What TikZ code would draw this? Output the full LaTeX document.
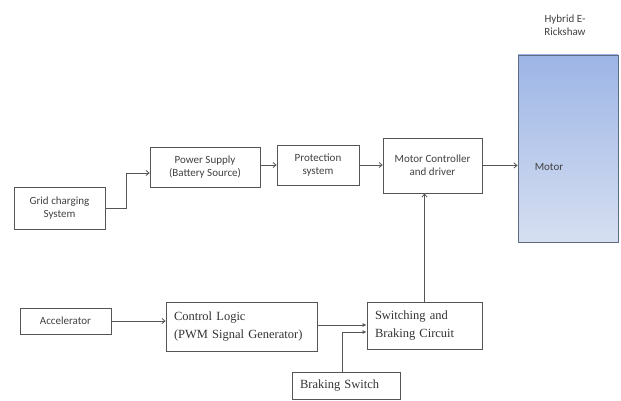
\documentclass[tikz,border=0pt]{standalone}
\usepackage{fontspec}
\setmainfont{Liberation Serif}
\newfontfamily\calib{Carlito}
\usetikzlibrary{arrows.meta}
\definecolor{motortop}{HTML}{9DB5E6}
\definecolor{motorbot}{HTML}{D6DFF1}
\definecolor{motorline}{HTML}{5D6A80}
\definecolor{boxline}{HTML}{555555}

\begin{document}
\begin{tikzpicture}[
	x=1pt,
	y=-1pt,
	box/.style={draw=boxline, line width=0.8pt, inner sep=2pt, align=center},
	sans/.style={font=\calib\fontsize{11}{13}\selectfont, text=black!75},
	serif/.style={font=\fontsize{12.5}{18}\selectfont, text=black!80},
	arr/.style={draw=boxline, line width=0.8pt, -{Straight Barb[length=3pt,width=5pt]}},
	farr/.style={draw=boxline, line width=0.8pt, -{Latex[length=4pt,width=4pt]}}]

\useasboundingbox (0,0) rectangle (621,401);

% upper chain (power path)
\node[box, sans, minimum width=91, minimum height=42] (grid)
    at (59.5,208) {Grid charging\\System};
\node[box, sans, minimum width=110, minimum height=40] (psu)
    at (205,167) {Power Supply\\(Battery Source)};
\node[box, sans, minimum width=82, minimum height=40] (prot)
    at (318,165) {Protection\\system};
\node[box, sans, minimum width=99, minimum height=55] (mc)
    at (432.5,165.5) {Motor Controller\\and driver};

% motor block
\node[draw=motorline, line width=0.9pt, top color=motortop, bottom color=motorbot,
    minimum width=100, minimum height=187] (motor) at (568,148.5) {};
\node[sans] (motortxt) at (549,167) {Motor};
\node[sans, align=center] (title) at (565,25) {Hybrid E-\\Rickshaw};

% lower chain (control path)
\node[box, sans, minimum width=91, minimum height=26] (acc)
    at (65.5,321) {Accelerator};
\node[box, serif, align=left, text width=135, inner xsep=8pt, minimum height=49] (ctrl)
    at (241.5,326.5) {Control Logic\\(PWM Signal Generator)};
\node[box, serif, align=left, text width=99, inner xsep=8pt, minimum height=47] (swb)
    at (424.5,325.5) {Switching and\\Braking Circuit};
\node[box, serif, align=left, text width=92, inner xsep=8pt, minimum height=27] (brk)
    at (346,386) {Braking Switch};

% links
\draw[arr] (grid.east) -- ++(21,0) |- ([yshift=-6pt]psu.west);
\draw[arr] (psu.east |- prot.west) -- (prot.west);
\draw[arr] (prot.east) -- (prot.east -| mc.west);
\draw[arr] (mc.east) -- (mc.east -| motor.west);
\draw[arr] (acc.east) -- (acc.east -| ctrl.west);
\draw[farr] ([yshift=1.5pt]ctrl.east) -- ([yshift=1.5pt]ctrl.east -| swb.west);
\draw[farr] ([xshift=-4pt]brk.north) |- ([yshift=-6.5pt]swb.west);
\draw[arr] (swb.north) -- (swb.north |- mc.south);
\end{tikzpicture}
\end{document}
